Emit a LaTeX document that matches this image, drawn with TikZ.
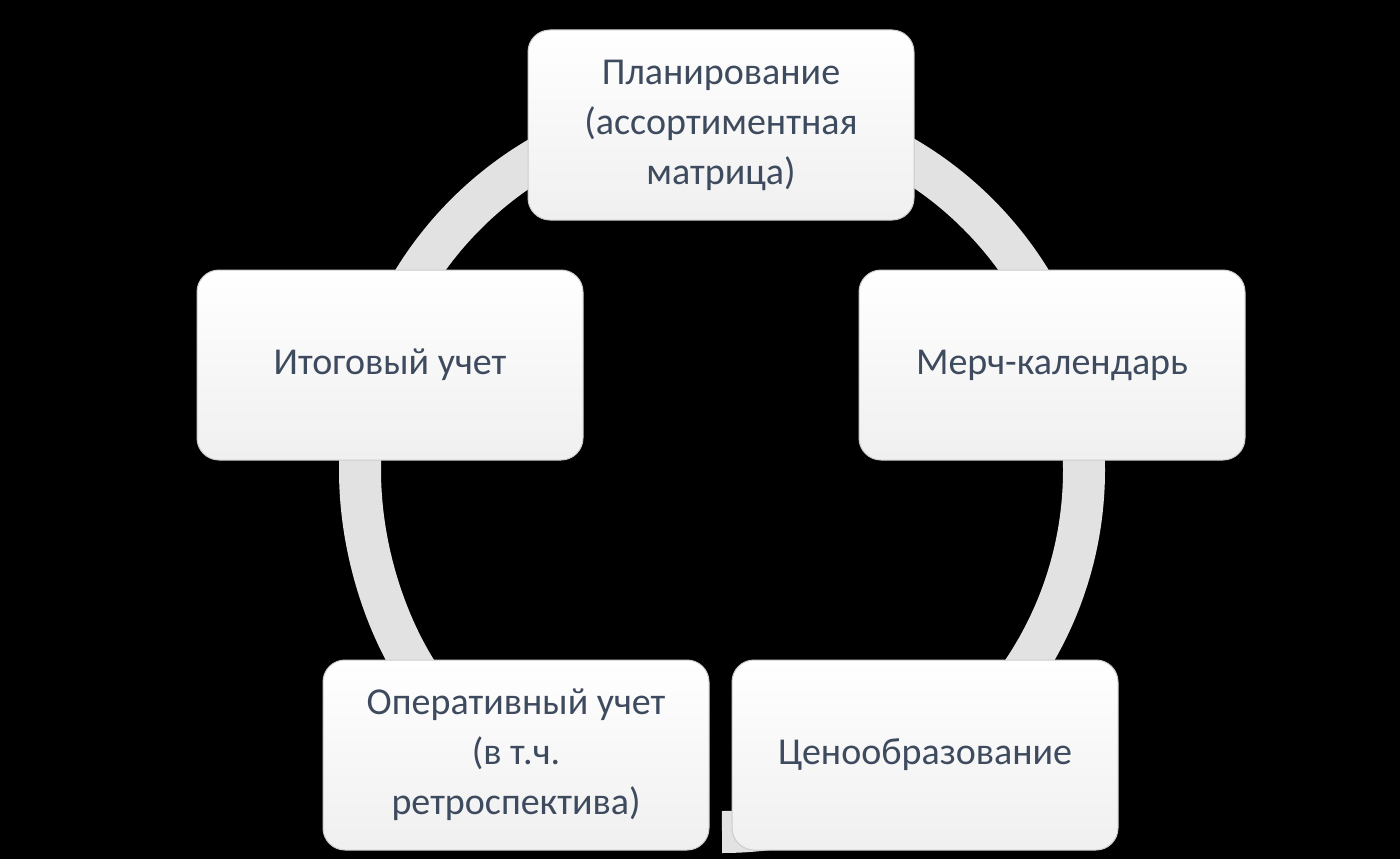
\documentclass[tikz,border=0pt]{standalone}
\usepackage{fontspec}
\setmainfont{Carlito}
\usetikzlibrary{arrows.meta, positioning, calc}
\definecolor{txt}{HTML}{3E4A5E}
\definecolor{ring}{HTML}{E2E2E2}

\begin{document}
\begin{tikzpicture}[x=1pt, y=-1pt,
  stage/.style={rectangle, rounded corners=22pt, draw=gray!40, line width=1pt,
    top color=white, bottom color=gray!12, minimum width=386pt, minimum height=190pt,
    align=center, text=txt, font=\fontsize{38}{50}\selectfont},
  cycle/.style={ring, line width=42pt, -{Triangle[length=44pt, width=88pt]}}
]
  \fill[black] (0,0) rectangle (1400,859);
  \useasboundingbox (0,0) rectangle (1400,859);

  \coordinate (hub) at (722,470);
  \draw[cycle] ($(hub)+(90:362)$) arc[start angle=90, end angle=-231, radius=362];

  \node[stage] (plan) at (721,125) {Планирование\\(ассортиментная\\матрица)};
  \node[stage] (merch) at (1052,365) {Мерч-календарь};
  \node[stage] (price) at (925,755) {Ценообразование};
  \node[stage] (oper) at (516,755) {Оперативный учет\\(в т.ч.\\ретроспектива)};
  \node[stage] (total) at (390,365) {Итоговый учет};
\end{tikzpicture}
\end{document}
